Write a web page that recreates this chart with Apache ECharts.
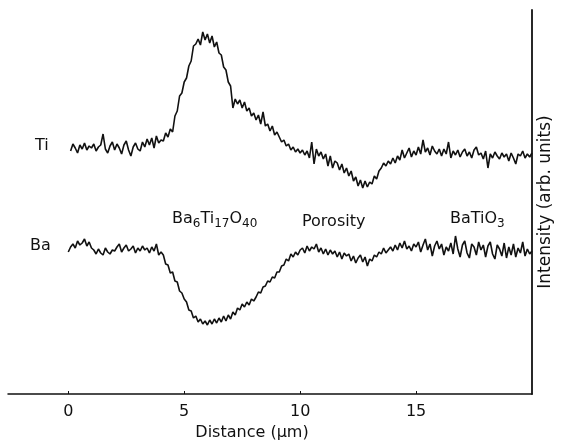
<!DOCTYPE html>
<html>
<head>
<meta charset="utf-8">
<script src="https://cdn.jsdelivr.net/npm/echarts@6/dist/echarts.min.js"></script>
<style>
  html, body { margin: 0; padding: 0; background: #fff; }
  #chart { width: 562px; height: 447px; }
</style>
</head>
<body>
<div id="chart"></div>
<script>
// sampling of the line scans (um)
const step = 0.1;
const tiStart = 0.1;
const baStart = 0.0;

// Ti signal, x = 0.1 .. 20.0 (arb. units)
const tiValues = [
  243, 250, 246, 241, 249, 245, 251, 244, 248, 246,
  250, 243, 247, 249, 260, 245, 241, 248, 252, 244,
  250, 246, 240, 249, 253, 244, 238, 247, 251, 245,
  243, 252, 247, 255, 249, 256, 246, 258, 251, 254,
  253, 261, 257, 265, 262, 278, 283, 298, 301, 312,
  316, 328, 333, 348, 350, 355, 349, 362, 354, 360,
  351, 358, 347, 352, 341, 339, 327, 324, 312, 308,
  286, 295, 290, 294, 286, 292, 283, 286, 278, 281,
  274, 279, 270, 282, 268, 270, 263, 268, 259, 262,
  257, 252, 254, 248, 250, 244, 247, 242, 245, 241,
  244, 239, 243, 236, 252, 230, 245, 238, 242, 235,
  240, 228, 238, 226, 233, 231, 224, 230, 221, 226,
  218, 223, 213, 217, 208, 214, 206, 213, 207, 212,
  210, 218, 215, 223, 226, 231, 228, 233, 230, 236,
  231, 238, 234, 244, 236, 241, 246, 237, 243, 239,
  247, 240, 254, 242, 246, 239, 248, 243, 240, 245,
  238, 245, 240, 252, 236, 243, 239, 244, 237, 242,
  245, 238, 242, 236, 244, 247, 239, 241, 235, 243,
  226, 240, 236, 242, 238, 235, 241, 237, 240, 233,
  241, 236, 230, 240, 238, 243, 236, 240, 237, 241
];

// Ba signal, x = 0.0 .. 20.0 (arb. units)
const baValues = [
  142,
  147, 150, 146, 153, 149, 151, 155, 148, 152, 146,
  144, 140, 145, 141, 139, 146, 142, 140, 144, 143,
  147, 150, 142, 146, 149, 143, 145, 148, 141, 146,
  143, 148, 144, 146, 141, 147, 143, 150, 139, 142,
  139, 130, 129, 121, 122, 113, 112, 103, 101, 95,
  92, 84, 83, 76, 78, 72, 75, 70, 73, 69,
  74, 70, 75, 71, 76, 72, 78, 73, 79, 75,
  82, 79, 86, 84, 90, 87, 92, 89, 95, 93,
  97, 102, 101, 107, 108, 113, 112, 117, 116, 122,
  122, 128, 129, 135, 133, 140, 137, 142, 139, 144,
  146, 141, 148, 143, 147, 145, 150, 142, 146, 140,
  145, 139, 144, 140, 143, 137, 142, 135, 141, 138,
  140, 133, 138, 131, 136, 139, 132, 137, 128, 135,
  133, 139, 137, 142, 140, 146, 141, 144, 147, 143,
  149, 144, 151, 146, 153, 145, 148, 143, 150, 147,
  152, 142, 149, 155, 144, 150, 138, 148, 153, 145,
  150, 139, 147, 143, 151, 140, 158, 145, 137, 149,
  153, 141, 136, 150, 147, 139, 152, 144, 149, 137,
  148, 152, 140, 135, 149, 145, 138, 151, 136, 147,
  139, 150, 137, 146, 141, 152, 138, 145, 140, 143
];

const xTicks = [0, 5, 10, 15];

function toPairs(start, vals) {
  return vals.map((v, i) => [+(start + i * step).toFixed(2), v]);
}

const FONT = 'DejaVu Sans';
const INK = '#111';

const chart = echarts.init(document.getElementById('chart'));

chart.setOption({
  animation: false,
  backgroundColor: '#fff',
  grid: { left: 8, right: 30, top: 10, bottom: 53, containLabel: false },
  xAxis: {
    type: 'value',
    min: -2.6,
    max: 20,
    axisLine: { onZero: false, lineStyle: { color: INK, width: 1.5 } },
    axisTick: { show: true, inside: true, length: 3, customValues: xTicks, lineStyle: { color: INK } },
    axisLabel: { customValues: xTicks, margin: 10, fontSize: 16, fontFamily: FONT, color: INK },
    splitLine: { show: false },
    name: 'Distance (\u03bcm)',
    nameLocation: 'middle',
    nameGap: 26,
    nameTextStyle: { fontSize: 16, fontFamily: FONT, color: INK, padding: [0, 36, 0, 0] }
  },
  yAxis: {
    type: 'value',
    position: 'right',
    min: 0,
    max: 384,
    axisLine: { show: true, onZero: false, lineStyle: { color: INK, width: 1.8 } },
    axisTick: { show: false },
    axisLabel: { show: false },
    splitLine: { show: false },
    name: 'Intensity (arb. units)',
    nameLocation: 'middle',
    nameRotate: 90,
    nameGap: 5,
    nameTextStyle: { fontSize: 17, fontFamily: FONT, color: INK }
  },
  series: [
    {
      name: 'Ti', type: 'line', showSymbol: false, symbol: 'none',
      lineStyle: { color: INK, width: 1.6 },
      data: toPairs(tiStart, tiValues)
    },
    {
      name: 'Ba', type: 'line', showSymbol: false, symbol: 'none',
      lineStyle: { color: INK, width: 1.6 },
      data: toPairs(baStart, baValues)
    }
  ],
  graphic: [
    { type: 'text', left: 35, top: 138, style: { text: 'Ti', fontSize: 16, fontFamily: FONT, fill: INK } },
    { type: 'text', left: 30, top: 238, style: { text: 'Ba', fontSize: 16, fontFamily: FONT, fill: INK } },
    {
      type: 'text', left: 172, top: 208,
      style: {
        text: '{n|Ba}{s|6}{n|Ti}{s|17}{n|O}{s|40}',
        fill: INK,
        rich: {
          n: { fontSize: 16, fontFamily: FONT, fill: INK, lineHeight: 20 },
          s: { fontSize: 12, fontFamily: FONT, fill: INK, lineHeight: 20, padding: [10, 0, 0, 0] }
        }
      }
    },
    { type: 'text', left: 302, top: 214, style: { text: 'Porosity', fontSize: 16, fontFamily: FONT, fill: INK } },
    {
      type: 'text', left: 450, top: 208,
      style: {
        text: '{n|BaTiO}{s|3}',
        fill: INK,
        rich: {
          n: { fontSize: 16, fontFamily: FONT, fill: INK, lineHeight: 20 },
          s: { fontSize: 12, fontFamily: FONT, fill: INK, lineHeight: 20, padding: [10, 0, 0, 0] }
        }
      }
    }
  ]
});
</script>
</body>
</html>
